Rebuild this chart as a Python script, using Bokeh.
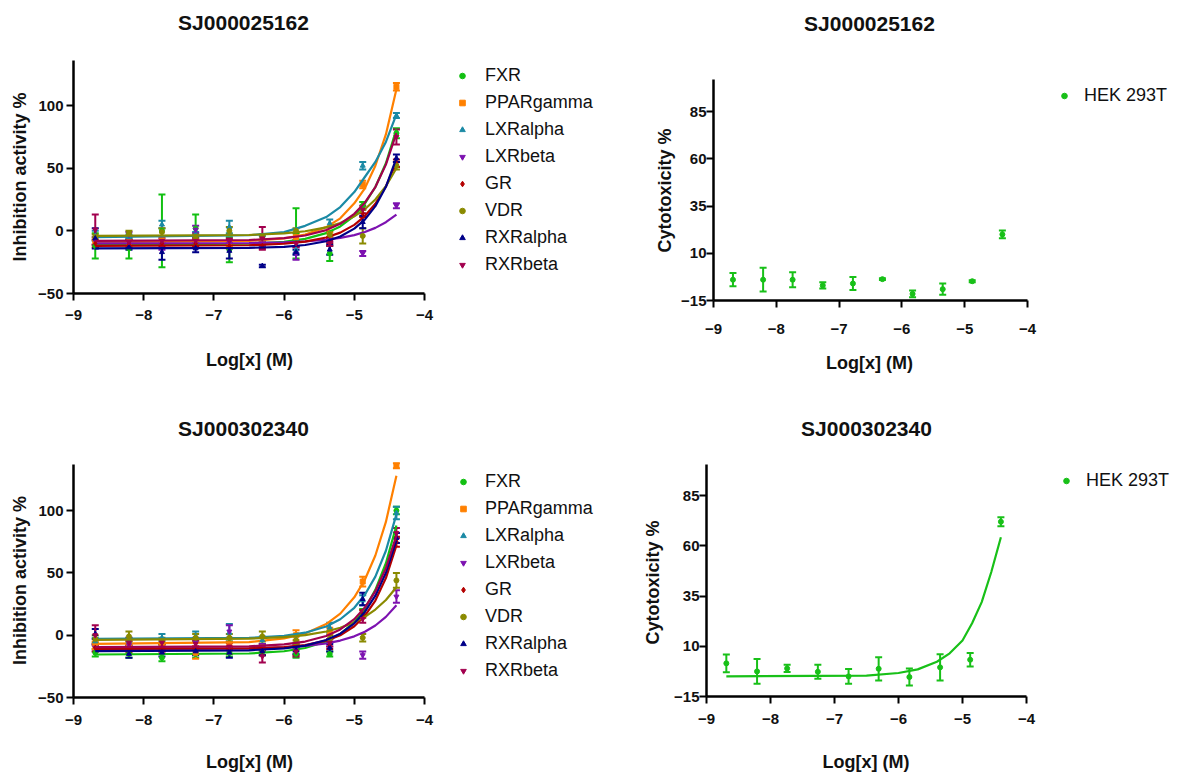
from bokeh.plotting import figure
from bokeh.models import (ColumnDataSource, Whisker, TeeHead, Legend, LegendItem,
                          FixedTicker, Range1d, Label)
from bokeh.layouts import column, row
from bokeh.embed import file_html
from bokeh.resources import INLINE

# ---------------- data ----------------
CONC = [-8.69, -8.21, -7.74, -7.26, -6.78, -6.31, -5.83, -5.35, -4.88, -4.40]
CURVE_X = [-8.69, -6.5, -6.0, -5.7, -5.4, -5.2, -5.0, -4.85, -4.7, -4.55, -4.40]
RECEPTORS = ["FXR", "PPARgamma", "LXRalpha", "LXRbeta", "GR", "VDR", "RXRalpha", "RXRbeta"]
COMPOUNDS = ["SJ000025162", "SJ000302340"]
CELL_LINE = "HEK 293T"
X_TICKS = [-9, -8, -7, -6, -5, -4]
X_AXIS_SPAN = (-9, -4)
INHIBITION_TICKS = [-50, 0, 50, 100]
CYTOTOXICITY_TICKS = [-15, 10, 35, 60, 85]

# compound SJ000025162, nuclear receptor panel (inhibition %)
A_MEAN = {
    "FXR":       [-12, -14, 0, 2, -15, -10, -2, -18, 20, 78],
    "PPARgamma": [-8, -9, -8, -8, -10, -9, -5, -3, 37, 115],
    "LXRalpha":  [-4, -5, 5, -3, 3, -6, -15, 6, 52, 92],
    "LXRbeta":   [-8, -3, -12, 1, -9, -10, -18, -7, -18, 20],
    "GR":        [-10, -11, -10, -10, -12, -12, -10, -8, 14, 54],
    "VDR":       [-5, -2, -1, -5, 0, -5, 0, -3, -4, 52],
    "RXRalpha":  [-6, -13, -17, -14, -16, -28, -17, -15, 7, 58],
    "RXRbeta":   [1, -9, -8, -8, -8, -6, -10, -10, 17, 75],
}
A_SEM = {
    "FXR":       [10, 8, 29, 11, 10, 2, 20, 6, 3, 4],
    "PPARgamma": [3, 2, 3, 3, 2, 2, 3, 3, 3, 3],
    "LXRalpha":  [4, 2, 3, 2, 5, 2, 3, 3, 3, 2],
    "LXRbeta":   [3, 2, 3, 3, 2, 2, 5, 2, 2, 2],
    "GR":        [3, 2, 2, 2, 2, 2, 2, 2, 3, 3],
    "VDR":       [2, 2, 3, 2, 3, 2, 2, 2, 6, 3],
    "RXRalpha":  [8, 2, 6, 3, 6, 1, 2, 4, 5, 3],
    "RXRbeta":   [12, 2, 2, 2, 2, 9, 3, 2, 3, 6],
}
A_FIT = {
    "FXR":       [-11, -10.3, -8.7, -6.4, -1.8, 3.5, 12, 21.7, 35, 54, 81],
    "PPARgamma": [-9, -8, -6, -3, 3, 10, 22, 34, 52, 77, 113],
    "LXRalpha":  [-5, -3.5, -1, 4, 11, 19, 31, 43, 55, 71, 93],
    "LXRbeta":   [-10, -9.7, -9.2, -8.4, -7.1, -5.6, -3.4, -0.9, 2.4, 6.9, 13],
    "GR":        [-12, -11.5, -10.3, -8.6, -5.3, -1.4, 4.8, 11.8, 21.6, 35.4, 55],
    "VDR":       [-4, -3.3, -2, -0.3, 2.8, 6.3, 11.6, 17.3, 25, 35.6, 50],
    "RXRalpha":  [-14, -13.6, -12.8, -11.3, -8.3, -4.5, 1.8, 9, 19.7, 35.2, 58],
    "RXRbeta":   [-8, -7.3, -5.8, -3.7, 0.6, 5.6, 13.6, 22.5, 35, 52.9, 78],
}

# compound SJ000302340, nuclear receptor panel (inhibition %)
B_MEAN = {
    "FXR":       [-14, -15, -18, -15, -14, -13, -15, -15, 18, 100],
    "PPARgamma": [-8, -7, -7, -14, -9, -10, 0, 3, 43, 136],
    "LXRalpha":  [-5, -5, -2, -1, 2, -4, -3, 6, 28, 98],
    "LXRbeta":   [-10, -8, -10, -6, 3, -10, -10, -6, -16, 31],
    "GR":        [-10, -11, -10, -12, -12, -13, -13, -8, 17, 75],
    "VDR":       [-3, -1, -5, -2, -2, -1, -4, -3, -2, 44],
    "RXRalpha":  [1, -15, -14, -13, -14, -13, -12, -10, 29, 78],
    "RXRbeta":   [0, -6, -6, -7, -9, -17, -13, -6, 13, 82],
}
B_SEM = {
    "FXR":       [3, 3, 3, 3, 3, 3, 3, 2, 3, 3],
    "PPARgamma": [3, 3, 3, 5, 3, 3, 4, 3, 4, 2],
    "LXRalpha":  [3, 3, 3, 4, 7, 3, 3, 4, 4, 5],
    "LXRbeta":   [3, 3, 3, 4, 5, 3, 3, 3, 3, 5],
    "GR":        [3, 3, 3, 3, 3, 3, 3, 3, 3, 4],
    "VDR":       [3, 4, 3, 3, 3, 4, 3, 3, 3, 6],
    "RXRalpha":  [4, 3, 3, 3, 4, 3, 3, 3, 5, 4],
    "RXRbeta":   [8, 4, 3, 3, 3, 5, 4, 3, 3, 4],
}
B_FIT = {
    "FXR":       [-15.5, -14.7, -12.9, -10.3, -5.1, 0.9, 10.5, 21.2, 36.4, 57.8, 88],
    "PPARgamma": [-7, -5.5, -2.6, 1.3, 8.9, 17.3, 30.4, 44.5, 64, 90.9, 128],
    "LXRalpha":  [-3, -2.2, -0.5, 2, 7, 12.8, 22, 32.5, 47, 67.8, 97],
    "LXRbeta":   [-11, -10.5, -9.7, -8.6, -6.6, -4.3, -0.9, 2.8, 7.8, 14.7, 24],
    "GR":        [-11, -10.6, -9.6, -7.9, -4.4, 0, 7.2, 15.6, 27.8, 45.8, 72],
    "VDR":       [-3.7, -2.8, -1.5, 0.1, 3, 6, 10.3, 14.7, 20.6, 28.3, 38.5],
    "RXRalpha":  [-12.8, -12.1, -10.6, -8.4, -3.9, 1.2, 9.5, 18.7, 31.7, 50.1, 76],
    "RXRbeta":   [-9.6, -8.9, -7.4, -5.1, -0.6, 4.6, 12.9, 22.2, 35.3, 53.8, 80],
}

# HEK 293T cytotoxicity (%)
HEK_A_MEAN = [-4, -4, -4, -7, -6, -3.7, -11.5, -9, -4.8, 20]
HEK_A_SEM = [3.5, 6.3, 4, 1.7, 3.5, 0.5, 1.8, 3, 0.5, 2]
HEK_B_MEAN = [1.5, -2.5, -1, -2.7, -5, -1.2, -5.3, -0.5, 3.3, 72]
HEK_B_SEM = [4.4, 6.2, 1.8, 3.5, 3.7, 5.8, 4.2, 6.5, 3.4, 2.3]
HEK_B_FIT = [-5, -4.6, -3.3, -1.5, 2.3, 6.5, 12.9, 21.5, 32, 47, 64.3]

# ---------------- styles ----------------
FONT = "Liberation Sans"
TEXT = "#111111"
LABEL_PX = 18
NBSP_EM = 0.278  # width of a no-break space in Liberation Sans Bold
COLORS = {"FXR": "#12c012", "PPARgamma": "#ff8000", "LXRalpha": "#1b8aa5",
          "LXRbeta": "#7d12b0", "GR": "#b40000", "VDR": "#8a8a00",
          "RXRalpha": "#000088", "RXRbeta": "#a2004e"}
MARKERS = {"FXR": "circle", "PPARgamma": "square", "LXRalpha": "triangle",
           "LXRbeta": "inverted_triangle", "GR": "diamond", "VDR": "circle",
           "RXRalpha": "triangle", "RXRbeta": "inverted_triangle"}
HEK_COLOR = "#18c018"


def shifted(text, shift_px):
    """Axis labels are centred on the whole frame; trailing no-break spaces move the
    visible text back to the centre of the drawn axis."""
    n = max(0, round(2 * shift_px / (NBSP_EM * LABEL_PX)))
    return text + "\u00a0" * n


def base_fig(geo, y_span, y_ticks, y_label, title, s):
    """geo = (fig_w, fig_h, frame_left, frame_bottom, axis_right, axis_top) in px.
    The frame reaches the right/top edges so that legend and title sit inside it;
    the axes are limited to their data spans with `bounds`."""
    W, H, L, B, AR, AT = geo
    x0, x1 = X_AXIS_SPAN
    y0, y1 = y_span
    x_max = x0 + (x1 - x0) * (W - L) / (AR - L)
    y_max = y0 + (y1 - y0) * B / (B - AT)
    p = figure(width=W, height=H, x_range=Range1d(x0, x_max), y_range=Range1d(y0, y_max),
               output_backend="svg", toolbar_location=None,
               min_border_left=L, min_border_right=0, min_border_top=0,
               min_border_bottom=H - B)
    p.outline_line_color = None
    p.grid.visible = False
    p.xaxis.ticker = FixedTicker(ticks=X_TICKS)
    p.yaxis.ticker = FixedTicker(ticks=y_ticks)
    p.xaxis.bounds = X_AXIS_SPAN
    p.yaxis.bounds = y_span
    for ax in (p.xaxis, p.yaxis):
        ax.axis_line_width = 2.5
        ax.axis_line_color = "black"
        ax.major_tick_line_width = 2
        ax.major_tick_line_color = "black"
        ax.major_tick_out = 7
        ax.major_tick_in = 0
        ax.minor_tick_line_color = None
        ax.major_label_text_font = FONT
        ax.major_label_text_font_size = "15px"
        ax.major_label_text_font_style = "bold"
        ax.major_label_text_color = TEXT
        ax.axis_label_text_font = FONT
        ax.axis_label_text_font_size = f"{LABEL_PX}px"
        ax.axis_label_text_font_style = "bold"
        ax.axis_label_text_color = TEXT
    p.xaxis.major_label_standoff = s["x_std"]
    p.yaxis.major_label_standoff = s["y_std"]
    # x label: frame centre is at (W - L)/2, axis centre at (AR - L)/2
    p.xaxis.axis_label = shifted("Log[x] (M)", (W - AR) / 2)
    p.xaxis.axis_label_standoff = s["x_lab"]
    p.yaxis.axis_label = shifted(y_label, s["y_shift"])
    p.yaxis.axis_label_standoff = s["y_lab"]
    p.add_layout(Label(x=s["title"][0], y=s["title"][1], x_units="screen", y_units="screen",
                       text=title, text_align="center", text_baseline="middle",
                       text_font=FONT, text_font_size="21px", text_font_style="bold",
                       text_color=TEXT))
    return p


def add_series(p, mean, sem, fit, color, marker):
    if fit is not None:
        p.line(CURVE_X, fit, line_color=color, line_width=2.2)
    src = ColumnDataSource(dict(x=CONC, y=mean,
                                lower=[m - e for m, e in zip(mean, sem)],
                                upper=[m + e for m, e in zip(mean, sem)]))
    p.add_layout(Whisker(source=src, base="x", lower="lower", upper="upper",
                         line_color=color, line_width=2,
                         upper_head=TeeHead(size=7, line_color=color, line_width=2),
                         lower_head=TeeHead(size=7, line_color=color, line_width=2)))
    return p.scatter("x", "y", source=src, marker=marker, size=5,
                     fill_color=color, line_color=color)


def add_legend(p, items, loc, standoff):
    leg = Legend(items=items, location=loc, orientation="vertical",
                 padding=0, margin=0, spacing=0, glyph_width=14, glyph_height=27,
                 label_height=27, label_standoff=standoff, label_text_font=FONT,
                 label_text_font_size="18px", label_text_color=TEXT,
                 border_line_color=None, background_fill_alpha=0)
    p.add_layout(leg)


def receptor_panel(title, means, sems, fits, geo, y_span, s):
    p = base_fig(geo, y_span, INHIBITION_TICKS, "Inhibition activity %", title, s)
    items = []
    for name in RECEPTORS:
        r = add_series(p, means[name], sems[name], fits[name], COLORS[name], MARKERS[name])
        items.append(LegendItem(label=name, renderers=[r]))
    add_legend(p, items, s["leg"], s["leg_std"])
    return p


def cyto_panel(title, mean, sem, fit, geo, y_span, s):
    p = base_fig(geo, y_span, CYTOTOXICITY_TICKS, "Cytotoxicity %", title, s)
    r = add_series(p, mean, sem, fit, HEK_COLOR, "circle")
    add_legend(p, [LegendItem(label=CELL_LINE, renderers=[r])], s["leg"], s["leg_std"])
    return p


p1 = receptor_panel(COMPOUNDS[0], A_MEAN, A_SEM, A_FIT,
                    (640, 398, 73, 293, 424, 60), (-50, 136),
                    dict(x_std=9, y_std=3, x_lab=27, y_lab=5, y_shift=30.5,
                         title=(170, 271), leg=(382, 15.5), leg_std=16))
p2 = cyto_panel(COMPOUNDS[0], HEK_A_MEAN, HEK_A_SEM, None,
                (545, 398, 73, 300, 387, 79), (-15, 102),
                dict(x_std=16, y_std=0, x_lab=16, y_lab=3, y_shift=40,
                     title=(156, 277), leg=(344, 191.5), leg_std=13))
p3 = receptor_panel(COMPOUNDS[1], B_MEAN, B_SEM, B_FIT,
                    (640, 376, 73, 299, 424, 66), (-50, 137),
                    dict(x_std=10, y_std=3, x_lab=24, y_lab=5, y_shift=33.5,
                         title=(170, 269), leg=(383, 12.8), leg_std=15))
p4 = cyto_panel(COMPOUNDS[1], HEK_B_MEAN, HEK_B_SEM, HEK_B_FIT,
                (545, 376, 63, 298, 385, 66), (-15, 100.5),
                dict(x_std=10, y_std=0, x_lab=25, y_lab=8, y_shift=35,
                     title=(160, 268), leg=(353, 202.5), leg_std=13))

layout = column(row(column(p1), column(p2)), row(column(p3), column(p4)))
open("out.html", "w").write(file_html(layout, INLINE))
